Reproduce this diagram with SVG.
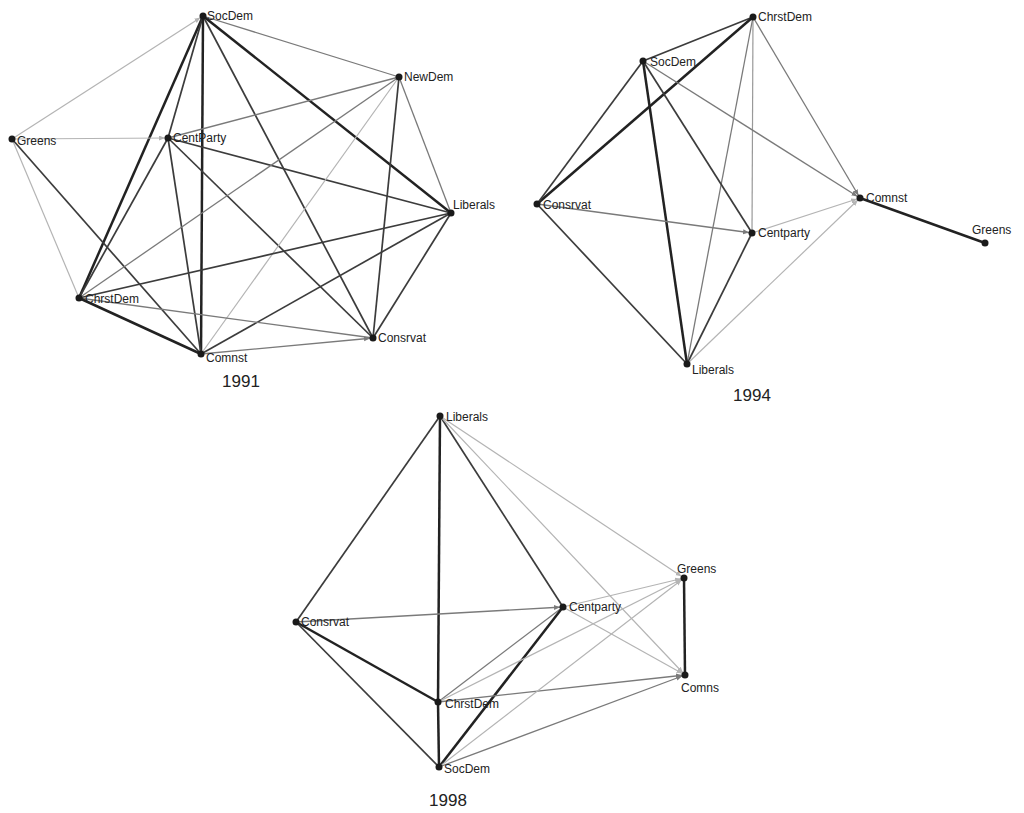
<svg xmlns="http://www.w3.org/2000/svg" width="1024" height="813" viewBox="0 0 1024 813">
<style>
.e0{stroke:#b4b4b4;stroke-width:1.2;fill:none}
.e1{stroke:#7a7a7a;stroke-width:1.3;fill:none}
.e2{stroke:#3c3c3c;stroke-width:1.7;fill:none}
.e3{stroke:#222;stroke-width:2.5;fill:none}
.n{fill:#1a1a1a}
.l{font-family:"Liberation Sans",Arial,sans-serif;font-size:12px;fill:#222}
.c{font-family:"Liberation Sans",Arial,sans-serif;font-size:17px;fill:#222}
</style>
<defs>
<marker id="a0" markerUnits="userSpaceOnUse" markerWidth="10" markerHeight="6" refX="9" refY="2.5" orient="auto"><path d="M0,0 L6,2.5 L0,5 z" fill="#b4b4b4"/></marker>
<marker id="a1" markerUnits="userSpaceOnUse" markerWidth="10" markerHeight="6" refX="9" refY="2.5" orient="auto"><path d="M0,0 L6,2.5 L0,5 z" fill="#7a7a7a"/></marker>
<marker id="a2" markerUnits="userSpaceOnUse" markerWidth="10" markerHeight="6" refX="9" refY="2.5" orient="auto"><path d="M0,0 L6,2.5 L0,5 z" fill="#3c3c3c"/></marker>
</defs>
<rect width="1024" height="813" fill="#fff"/>

<!-- 1991 -->
<g id="edges1991">
<line class="e0" x1="12" y1="139" x2="203" y2="16" marker-end="url(#a0)"/>
<line class="e1" x1="203" y1="16" x2="399" y2="77"/>
<line class="e3" x1="203" y1="16" x2="451" y2="213"/>
<line class="e3" x1="203" y1="16" x2="79" y2="298"/>
<line class="e2" x1="203" y1="16" x2="168" y2="138"/>
<line class="e3" x1="203" y1="16" x2="201" y2="354"/>
<line class="e2" x1="203" y1="16" x2="373" y2="338"/>
<line class="e0" x1="12" y1="139" x2="168" y2="138" marker-end="url(#a0)"/>
<line class="e0" x1="12" y1="139" x2="79" y2="298"/>
<line class="e2" x1="12" y1="139" x2="201" y2="354"/>
<line class="e1" x1="168" y1="138" x2="399" y2="77"/>
<line class="e2" x1="168" y1="138" x2="451" y2="213"/>
<line class="e2" x1="168" y1="138" x2="79" y2="298"/>
<line class="e2" x1="168" y1="138" x2="201" y2="354"/>
<line class="e2" x1="168" y1="138" x2="373" y2="338"/>
<line class="e1" x1="399" y1="77" x2="79" y2="298"/>
<line class="e0" x1="399" y1="77" x2="201" y2="354"/>
<line class="e2" x1="399" y1="77" x2="373" y2="338"/>
<line class="e1" x1="399" y1="77" x2="451" y2="213"/>
<line class="e2" x1="451" y1="213" x2="79" y2="298"/>
<line class="e2" x1="451" y1="213" x2="201" y2="354"/>
<line class="e2" x1="451" y1="213" x2="373" y2="338"/>
<line class="e1" x1="79" y1="298" x2="373" y2="338"/>
<line class="e3" x1="79" y1="298" x2="201" y2="354"/>
<line class="e1" x1="201" y1="354" x2="373" y2="338" marker-end="url(#a1)"/>
</g>
<g id="n91-SocDem"><circle class="n" cx="203" cy="16" r="3.5"/><text class="l" x="207" y="20">SocDem</text></g>
<g id="n91-NewDem"><circle class="n" cx="399" cy="77" r="3.5"/><text class="l" x="404" y="81">NewDem</text></g>
<g id="n91-Greens"><circle class="n" cx="12" cy="139" r="3.5"/><text class="l" x="17" y="145">Greens</text></g>
<g id="n91-CentParty"><circle class="n" cx="168" cy="138" r="3.5"/><text class="l" x="173" y="142">CentParty</text></g>
<g id="n91-Liberals"><circle class="n" cx="451" cy="213" r="3.5"/><text class="l" x="453" y="209">Liberals</text></g>
<g id="n91-ChrstDem"><circle class="n" cx="79" cy="298" r="3.5"/><text class="l" x="85" y="303">ChrstDem</text></g>
<g id="n91-Comnst"><circle class="n" cx="201" cy="354" r="3.5"/><text class="l" x="206" y="362">Comnst</text></g>
<g id="n91-Consrvat"><circle class="n" cx="373" cy="338" r="3.5"/><text class="l" x="378" y="342">Consrvat</text></g>
<text class="c" x="241" y="387" text-anchor="middle">1991</text>

<!-- 1994 -->
<g id="edges1994">
<line class="e2" x1="753" y1="17" x2="643" y2="61"/>
<line class="e3" x1="753" y1="17" x2="537" y2="204"/>
<line class="e1" x1="753" y1="17" x2="860" y2="198" marker-end="url(#a1)"/>
<line class="e0" x1="753" y1="17" x2="752" y2="233" style="stroke:#999"/>
<line class="e1" x1="753" y1="17" x2="687" y2="364"/>
<line class="e2" x1="643" y1="61" x2="537" y2="204"/>
<line class="e3" x1="643" y1="61" x2="687" y2="364"/>
<line class="e2" x1="643" y1="61" x2="752" y2="233"/>
<line class="e1" x1="643" y1="61" x2="860" y2="198" marker-end="url(#a1)"/>
<line class="e1" x1="537" y1="204" x2="752" y2="233" marker-end="url(#a1)"/>
<line class="e2" x1="537" y1="204" x2="687" y2="364"/>
<line class="e2" x1="752" y1="233" x2="687" y2="364"/>
<line class="e0" x1="752" y1="233" x2="860" y2="198" marker-end="url(#a0)"/>
<line class="e0" x1="687" y1="364" x2="860" y2="198" marker-end="url(#a0)"/>
<line class="e3" x1="860" y1="198" x2="985" y2="243"/>
</g>
<g id="n94-ChrstDem"><circle class="n" cx="753" cy="17" r="3.5"/><text class="l" x="758" y="21">ChrstDem</text></g>
<g id="n94-SocDem"><circle class="n" cx="643" cy="61" r="3.5"/><text class="l" x="650" y="66">SocDem</text></g>
<g id="n94-Consrvat"><circle class="n" cx="537" cy="204" r="3.5"/><text class="l" x="543" y="209">Consrvat</text></g>
<g id="n94-Comnst"><circle class="n" cx="860" cy="198" r="3.5"/><text class="l" x="866" y="202">Comnst</text></g>
<g id="n94-Greens"><circle class="n" cx="985" cy="243" r="3.5"/><text class="l" x="972" y="234">Greens</text></g>
<g id="n94-Centparty"><circle class="n" cx="752" cy="233" r="3.5"/><text class="l" x="758" y="237">Centparty</text></g>
<g id="n94-Liberals"><circle class="n" cx="687" cy="364" r="3.5"/><text class="l" x="692" y="374">Liberals</text></g>
<text class="c" x="752" y="401" text-anchor="middle">1994</text>

<!-- 1998 -->
<g id="edges1998">
<line class="e2" x1="440" y1="416" x2="296" y2="622"/>
<line class="e3" x1="440" y1="416" x2="438" y2="702"/>
<line class="e2" x1="440" y1="416" x2="563" y2="607"/>
<line class="e0" x1="440" y1="416" x2="684" y2="578" marker-end="url(#a0)"/>
<line class="e0" x1="440" y1="416" x2="685" y2="675" marker-end="url(#a0)"/>
<line class="e1" x1="296" y1="622" x2="563" y2="607" marker-end="url(#a1)"/>
<line class="e3" x1="296" y1="622" x2="438" y2="702"/>
<line class="e2" x1="296" y1="622" x2="439" y2="767"/>
<line class="e1" x1="438" y1="702" x2="563" y2="607"/>
<line class="e3" x1="439" y1="767" x2="563" y2="607"/>
<line class="e0" x1="563" y1="607" x2="684" y2="578" marker-end="url(#a0)"/>
<line class="e0" x1="563" y1="607" x2="685" y2="675" marker-end="url(#a0)"/>
<line class="e0" x1="438" y1="702" x2="684" y2="578" marker-end="url(#a0)"/>
<line class="e1" x1="438" y1="702" x2="685" y2="675" marker-end="url(#a1)"/>
<line class="e0" x1="439" y1="767" x2="684" y2="578" marker-end="url(#a0)"/>
<line class="e1" x1="439" y1="767" x2="685" y2="675" marker-end="url(#a1)"/>
<line class="e3" x1="438" y1="702" x2="439" y2="767"/>
<line class="e3" x1="684" y1="578" x2="685" y2="675"/>
</g>
<g id="n98-Liberals"><circle class="n" cx="440" cy="416" r="3.5"/><text class="l" x="446" y="421">Liberals</text></g>
<g id="n98-Consrvat"><circle class="n" cx="296" cy="622" r="3.5"/><text class="l" x="301" y="626">Consrvat</text></g>
<g id="n98-Centparty"><circle class="n" cx="563" cy="607" r="3.5"/><text class="l" x="569" y="611">Centparty</text></g>
<g id="n98-Greens"><circle class="n" cx="684" cy="578" r="3.5"/><text class="l" x="677" y="573">Greens</text></g>
<g id="n98-Comns"><circle class="n" cx="685" cy="675" r="3.5"/><text class="l" x="681" y="692">Comns</text></g>
<g id="n98-ChrstDem"><circle class="n" cx="438" cy="702" r="3.5"/><text class="l" x="445" y="708">ChrstDem</text></g>
<g id="n98-SocDem"><circle class="n" cx="439" cy="767" r="3.5"/><text class="l" x="444" y="773">SocDem</text></g>
<text class="c" x="448" y="806" text-anchor="middle">1998</text>
</svg>
